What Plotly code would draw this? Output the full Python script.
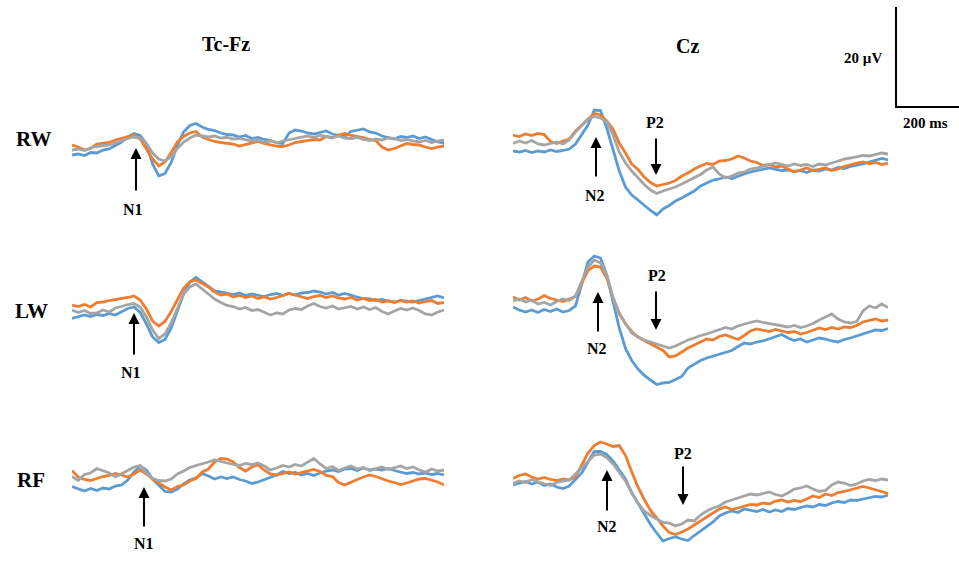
import plotly.graph_objects as go

# time axis (ms), epoch -100 .. 1100 ms, 20 ms steps
time_ms = list(range(-100, 1101, 20))

# ---- amplitudes in microvolts (negative plotted upward, ERP convention) ----
# RW, Tc-Fz
rw_tcfz_blue = [1.4, 1.2, 1.5, 0.9, 1.0, 0.4, 0.2, -0.5, -1.2, -2.2, -2.9, -2.5, -0.8, 3.2, 5.6, 5.1, 2.9, -0.6, -3.2, -4.5,
                -4.9, -4.2, -3.7, -3.5, -3.0, -2.7, -2.6, -2.2, -2.5, -1.9, -2.1, -1.7, -1.5, -1.1, -0.9, -3.0, -3.6, -3.4, -3.0, -2.8,
                -3.1, -3.4, -2.8, -2.5, -2.3, -3.3, -3.6, -3.8, -3.2, -3.0, -2.4, -2.1, -1.8, -2.3, -2.1, -2.4, -1.9, -2.2, -1.7, -1.2, -1.0]
rw_tcfz_orange = [-0.6, -0.2, 0.4, 0.1, -0.8, -0.9, -1.1, -1.6, -1.9, -2.2, -2.6, -1.8, 0.2, 2.2, 3.6, 2.8, 0.9, -1.2, -2.3, -3.0,
                  -3.3, -2.2, -1.7, -1.3, -1.1, -0.9, -0.8, -0.4, -0.7, -1.0, -1.3, -0.9, -0.6, -0.4, -0.3, -0.6, -1.1, -1.3, -1.5, -1.7,
                  -1.6, -2.3, -2.0, -2.6, -2.9, -2.5, -2.3, -2.1, -1.7, -1.5, -0.2, 0.4, 0.1, -0.4, -0.9, -0.7, -0.6, -0.2, 0.1, -0.2, -0.4]
rw_tcfz_gray = [0.4, 0.2, 0.5, 0.0, -0.3, -0.4, -0.6, -1.0, -1.5, -1.9, -2.2, -2.0, -0.9, 1.0, 2.2, 2.6, 1.7, 0.1, -1.2, -2.0,
                -2.6, -2.4, -2.2, -2.4, -2.0, -2.1, -1.8, -1.9, -1.6, -1.4, -1.5, -1.2, -1.4, -1.1, -1.4, -1.6, -1.9, -2.2, -2.4, -2.1,
                -2.5, -2.3, -2.1, -2.4, -2.0, -1.9, -2.1, -1.7, -1.5, -1.8, -1.6, -2.0, -1.9, -1.5, -1.7, -1.4, -1.2, -1.5, -1.1, -1.4, -1.6]

# RW, Cz
rw_cz_blue = [0.6, 0.8, 0.5, 0.9, 0.6, 0.8, 0.4, 0.7, 0.5, 0.2, -0.8, -2.6, -4.6, -7.6, -7.5, -4.0, 0.5, 4.6, 7.8, 9.4,
              10.4, 11.5, 12.5, 13.4, 12.2, 11.5, 10.6, 10.0, 9.3, 8.6, 7.6, 7.0, 6.4, 6.2, 5.8, 6.1, 5.6, 5.2, 4.8, 4.5,
              4.2, 4.0, 4.3, 4.5, 4.4, 4.7, 4.5, 4.9, 4.4, 4.6, 4.2, 4.4, 3.9, 4.1, 3.7, 3.5, 3.2, 2.8, 2.5, 2.1, 2.4]
rw_cz_orange = [-2.6, -2.3, -2.8, -2.5, -2.9, -2.7, -1.3, -0.9, -1.4, -1.8, -3.4, -4.6, -5.9, -6.9, -6.6, -5.4, -3.8, -1.0, 1.0, 3.2,
                4.3, 5.8, 6.9, 7.6, 7.3, 7.0, 6.5, 5.6, 5.0, 4.2, 3.6, 3.1, 3.3, 2.6, 2.5, 2.2, 1.6, 2.0, 2.6, 2.9,
                3.5, 3.3, 3.8, 3.6, 4.2, 4.7, 4.4, 4.0, 4.5, 4.3, 4.0, 4.5, 4.2, 3.7, 3.3, 3.0, 2.8, 3.1, 2.9, 3.3, 3.0]
rw_cz_gray = [-0.9, -1.4, -1.0, -1.5, -0.8, -0.6, -0.9, -1.2, -0.8, -1.6, -3.2, -4.6, -5.8, -6.3, -6.0, -5.3, -2.6, 0.8, 3.0, 4.6,
              6.0, 7.3, 8.4, 9.1, 8.6, 8.2, 7.8, 7.2, 6.6, 5.9, 5.3, 4.4, 3.8, 5.2, 6.0, 5.6, 5.0, 4.8, 4.2, 4.0,
              3.6, 3.3, 3.0, 3.3, 3.6, 3.2, 3.5, 3.3, 3.7, 3.2, 3.4, 3.0, 2.6, 2.2, 2.0, 1.8, 1.5, 1.6, 1.3, 1.0, 1.2]

# LW, Tc-Fz
lw_tcfz_blue = [2.7, 2.4, 2.0, 2.3, 1.9, 2.1, 1.7, 2.0, 1.3, 0.7, 0.4, 1.5, 3.8, 6.4, 7.5, 6.9, 4.6, 1.0, -2.2, -4.6,
                -5.5, -4.6, -3.7, -2.8, -2.6, -2.3, -2.1, -2.4, -1.9, -2.2, -2.0, -1.7, -2.1, -2.3, -1.9, -2.3, -2.0, -2.4, -2.5, -2.8,
                -2.6, -2.2, -2.5, -2.0, -2.3, -1.9, -1.6, -1.3, -1.2, -0.9, -1.1, -0.8, -0.6, -0.9, -0.7, -0.6, -0.9, -1.2, -1.5, -1.8, -1.4]
lw_tcfz_orange = [0.0, 0.3, -0.1, 0.4, -0.5, -0.6, -0.9, -1.1, -1.2, -1.5, -1.8, -1.0, 0.8, 3.2, 4.2, 3.3, 1.3, -1.2, -3.4, -4.6,
                  -5.0, -4.3, -3.6, -2.6, -2.0, -2.2, -1.6, -1.9, -1.5, -1.8, -1.3, -1.6, -1.2, -1.5, -1.9, -2.3, -2.0, -1.6, -1.3, -1.7,
                  -1.9, -1.5, -1.8, -1.4, -1.2, -1.5, -1.0, -1.3, -0.9, -1.1, -0.6, -0.8, -0.5, -0.9, -0.6, -0.8, -0.4, -0.7, -0.9, -0.3, -0.5]
lw_tcfz_gray = [1.0, 1.5, 1.1, 1.7, 1.6, 1.0, 1.4, 0.6, 0.3, -0.1, -0.3, 0.4, 2.4, 5.0, 6.7, 5.8, 3.6, 0.5, -2.2, -3.6,
                -4.2, -3.2, -2.2, -1.2, -0.5, 0.1, 0.3, 0.8, 0.5, 1.1, 0.9, 1.4, 2.0, 1.6, 1.8, 1.0, 0.7, 0.9, 0.2, -0.3,
                0.3, 0.6, 0.2, 0.8, 0.5, 0.3, 0.8, 0.4, 0.9, 0.5, 1.3, 1.8, 1.2, 0.7, 1.0, 0.6, 1.1, 1.8, 2.0, 1.4, 1.0]

# LW, Cz
lw_cz_blue = [0.4, 1.0, 1.4, 1.0, 1.5, 0.9, 1.3, 0.8, 1.4, 1.1, 0.2, -4.4, -8.6, -9.8, -9.4, -6.0, -0.8, 4.6, 8.7, 11.1,
              12.8, 14.1, 15.0, 15.9, 15.6, 15.5, 14.9, 14.3, 12.6, 11.9, 11.1, 10.6, 10.2, 9.8, 9.5, 9.1, 8.3, 7.6, 7.8, 7.4,
              7.2, 6.8, 6.3, 5.9, 6.6, 7.1, 6.8, 7.4, 7.0, 6.6, 6.8, 7.2, 7.4, 6.9, 6.6, 6.2, 5.8, 5.4, 5.0, 5.1, 4.7]
lw_cz_orange = [-1.6, -1.0, -1.5, -0.8, -1.2, -1.9, -1.3, -1.0, -0.7, -1.2, -1.7, -4.4, -6.9, -7.8, -7.6, -5.4, -1.5, 1.6, 3.8, 5.3,
                6.4, 7.1, 7.8, 8.4, 9.1, 10.4, 10.2, 9.4, 8.6, 8.0, 7.4, 6.8, 7.0, 6.3, 6.0, 6.5, 6.9, 6.1, 5.2, 4.8,
                5.0, 5.3, 4.9, 5.2, 5.5, 5.3, 5.8, 5.5, 5.0, 4.6, 4.9, 4.5, 4.8, 4.4, 4.5, 4.1, 3.4, 3.1, 2.8, 3.2, 3.0]
lw_cz_gray = [-0.8, -1.2, -0.6, -1.0, -0.2, -0.5, 0.0, -0.7, -1.2, -0.9, -1.8, -4.8, -7.6, -9.0, -8.4, -6.0, -1.5, 1.8, 3.8, 5.6,
              6.4, 7.0, 7.4, 7.8, 8.1, 8.6, 8.2, 7.6, 7.0, 6.6, 6.1, 5.8, 5.4, 5.0, 4.5, 4.8, 4.2, 3.8, 3.5, 3.2,
              3.5, 3.7, 3.9, 4.2, 4.4, 4.1, 4.5, 4.2, 3.7, 3.0, 2.4, 1.8, 2.8, 3.4, 3.6, 3.3, 1.2, 0.2, 0.6, -0.2, 0.5]

# RF, Tc-Fz
rf_tcfz_blue = [1.7, 2.2, 2.6, 2.1, 2.5, 2.0, 2.2, 1.6, 1.4, 0.4, -1.2, -2.4, -1.6, 0.2, 1.5, 2.7, 2.8, 2.2, 1.2, 0.4,
                0.0, -0.9, -0.4, 0.2, -0.2, 0.1, -0.2, 0.3, 0.6, 1.1, 0.8, 0.3, -0.2, -0.6, -1.3, -0.9, -1.1, -0.6, -0.9, -0.5,
                -1.0, -1.4, -1.6, -1.3, -1.8, -1.9, -1.5, -2.0, -1.6, -1.8, -1.6, -1.9, -1.5, -1.2, -0.9, -1.1, -0.8, -1.0, -0.7, -0.9, -0.6]
rf_tcfz_orange = [-1.5, -0.2, 0.3, 0.5, 0.1, -0.3, -0.5, -0.9, -0.6, -0.2, -0.8, -1.6, -0.8, 0.2, 1.0, 1.8, 2.4, 1.7, 1.4, 0.6,
                  0.1, -1.2, -1.8, -3.2, -3.9, -3.8, -3.2, -2.1, -1.4, -2.2, -2.6, -1.6, -0.8, -0.6, -0.9, -1.2, -0.8, -1.1, -1.5, -1.7,
                  -1.3, -0.5, -0.3, 0.9, 1.4, 0.8, 0.3, -0.2, -0.6, -0.3, 0.2, 0.6, 0.9, 1.3, 1.0, 0.6, 0.2, 0.1, 0.4, 0.8, 1.4]
rf_tcfz_gray = [-0.3, 0.5, -0.7, -1.0, -1.9, -1.4, -1.0, -0.2, -0.8, -1.5, -2.2, -2.5, -1.0, 0.1, 0.5, 0.6, 0.2, -0.8, -1.4, -2.1,
                -2.5, -2.8, -3.2, -3.6, -3.3, -2.9, -2.7, -2.5, -2.9, -2.7, -3.0, -2.4, -1.6, -2.0, -2.5, -2.2, -2.7, -2.4, -3.2, -3.9,
                -2.8, -1.9, -2.3, -1.5, -2.0, -2.4, -1.8, -2.1, -1.5, -1.9, -2.2, -1.7, -2.0, -2.4, -1.9, -2.2, -1.6, -1.2, -1.8, -1.4, -1.6]

# RF, Cz
rf_cz_blue = [1.4, 1.0, 0.7, 1.2, 0.8, 1.5, 1.2, 1.8, 2.1, 1.6, 0.4, -1.0, -3.2, -5.3, -5.3, -4.7, -3.4, -1.5, 0.2, 2.9,
              5.0, 7.3, 9.3, 11.0, 12.6, 12.1, 11.8, 12.2, 12.5, 11.5, 10.6, 9.7, 8.8, 7.6, 7.0, 6.6, 6.9, 6.2, 6.5, 6.7,
              6.3, 6.8, 6.4, 6.7, 6.1, 6.3, 5.9, 5.6, 5.8, 5.3, 5.5, 5.0, 4.7, 4.9, 4.4, 4.5, 4.2, 4.0, 3.7, 3.8, 3.4]
rf_cz_orange = [0.1, -0.5, -0.8, -0.2, 0.2, -0.1, 0.3, 0.5, 0.2, 0.4, -0.2, -2.6, -5.0, -6.5, -7.2, -6.8, -6.3, -6.5, -4.5, -1.2,
                1.8, 4.3, 6.5, 8.0, 9.6, 10.9, 11.3, 10.8, 10.2, 9.4, 8.6, 7.8, 7.0, 6.2, 5.8, 6.3, 6.0, 5.6, 5.3, 5.4,
                5.0, 5.2, 4.6, 4.4, 4.8, 4.5, 4.7, 4.2, 3.6, 3.9, 3.2, 3.5, 2.9, 2.7, 2.4, 2.1, 1.7, 2.0, 2.4, 2.7, 3.1]
rf_cz_gray = [1.1, 0.6, 0.9, 0.3, 0.8, 1.2, 1.5, 0.9, 0.6, 0.4, -0.8, -2.0, -3.4, -4.6, -4.8, -4.1, -2.8, -1.1, 0.6, 3.0,
              5.0, 6.6, 7.5, 8.2, 8.9, 9.0, 9.6, 9.2, 8.4, 8.6, 7.4, 6.6, 6.0, 5.6, 4.8, 4.4, 4.0, 3.5, 3.2, 3.4,
              3.1, 2.8, 3.3, 3.6, 3.0, 2.2, 2.0, 1.6, 2.2, 2.7, 2.5, 1.4, 0.8, 1.0, 1.5, 1.2, 0.6, 0.3, 0.5, 0.2, 0.4]

row_names = ["RW", "LW", "RF"]
col_names = ["Tc-Fz", "Cz"]
series_colors = ["#5B9BD5", "#ED7D31", "#A5A5A5"]

panels = {
    (0, 0): [rw_tcfz_blue, rw_tcfz_orange, rw_tcfz_gray],
    (0, 1): [rw_cz_blue, rw_cz_orange, rw_cz_gray],
    (1, 0): [lw_tcfz_blue, lw_tcfz_orange, lw_tcfz_gray],
    (1, 1): [lw_cz_blue, lw_cz_orange, lw_cz_gray],
    (2, 0): [rf_tcfz_blue, rf_tcfz_orange, rf_tcfz_gray],
    (2, 1): [rf_cz_blue, rf_cz_orange, rf_cz_gray],
}

W, H = 959, 561
PX_PER_UV = 5.0
col_px = [(72, 444), (513, 888)]
row_base = [148, 305, 478]          # pixel of 0 uV
row_range = [(-12, 16), (-12, 19), (-10, 16)]   # (top, bottom) in uV

def px_x(x):
    return x / W

def px_y(y):
    return 1 - y / H

fig = go.Figure()
layout = {}
idx = 0
for r in range(3):
    top_uv, bot_uv = row_range[r]
    y_top = row_base[r] + top_uv * PX_PER_UV
    y_bot = row_base[r] + bot_uv * PX_PER_UV
    for c in range(2):
        idx += 1
        xa = "x" if idx == 1 else f"x{idx}"
        ya = "y" if idx == 1 else f"y{idx}"
        xkey = "xaxis" if idx == 1 else f"xaxis{idx}"
        ykey = "yaxis" if idx == 1 else f"yaxis{idx}"
        layout[xkey] = dict(domain=[px_x(col_px[c][0]), px_x(col_px[c][1])],
                            range=[-100, 1100], visible=False, anchor=ya)
        layout[ykey] = dict(domain=[px_y(y_bot), px_y(y_top)],
                            range=[bot_uv, top_uv], visible=False, anchor=xa)
        for s, vals in enumerate(panels[(r, c)]):
            fig.add_trace(go.Scatter(x=time_ms, y=vals, mode="lines",
                                     line=dict(color=series_colors[s], width=2.8),
                                     xaxis=xa, yaxis=ya, hoverinfo="skip"))

fig.update_layout(**layout)

FONT = "Times New Roman, Liberation Serif, serif"
ann = []

def text(x, y, s, size):
    ann.append(dict(x=px_x(x), y=px_y(y), xref="paper", yref="paper", text=f"<b>{s}</b>",
                    showarrow=False, xanchor="center", yanchor="middle",
                    font=dict(family=FONT, size=size, color="black")))

def arrow(x, y_head, y_tail):
    ann.append(dict(x=px_x(x), y=px_y(y_head), xref="paper", yref="paper", text="",
                    showarrow=True, ax=0, ay=y_tail - y_head, arrowhead=2, arrowsize=1.1,
                    arrowwidth=2, arrowcolor="black", standoff=0, startstandoff=0))

# column titles and row labels
text(226, 44, col_names[0], 20)
text(687, 46, col_names[1], 20)
text(33, 139, row_names[0], 21)
text(31, 311, row_names[1], 21)
text(31, 480, row_names[2], 21)

# component markers
arrow(136, 148, 192); text(133, 209, "N1", 16)
arrow(134, 313, 356); text(131, 372, "N1", 16)
arrow(144, 487, 528); text(144, 543, "N1", 16)
arrow(596, 137, 178); text(595, 195, "N2", 16)
arrow(598, 292, 333); text(597, 348, "N2", 16)
arrow(607, 470, 512); text(607, 526, "N2", 16)
arrow(656, 175, 137); text(655, 122, "P2", 16)
arrow(656, 330, 290); text(657, 275, "P2", 16)
arrow(683, 505, 465); text(683, 453, "P2", 16)

# scale bar
text(863, 58, "20 µV", 15)
text(925, 123, "200 ms", 15)
shapes = [
    dict(type="line", xref="paper", yref="paper", x0=px_x(896), x1=px_x(896), y0=px_y(7), y1=px_y(107),
         line=dict(color="black", width=2)),
    dict(type="line", xref="paper", yref="paper", x0=px_x(895), x1=px_x(959), y0=px_y(107), y1=px_y(107),
         line=dict(color="black", width=2)),
]

fig.update_layout(width=W, height=H, margin=dict(l=0, r=0, t=0, b=0),
                  paper_bgcolor="white", plot_bgcolor="white", showlegend=False,
                  annotations=ann, shapes=shapes)

fig.write_html("out.html", config={"displayModeBar": False},
               post_script="document.body.style.margin='0px';")
